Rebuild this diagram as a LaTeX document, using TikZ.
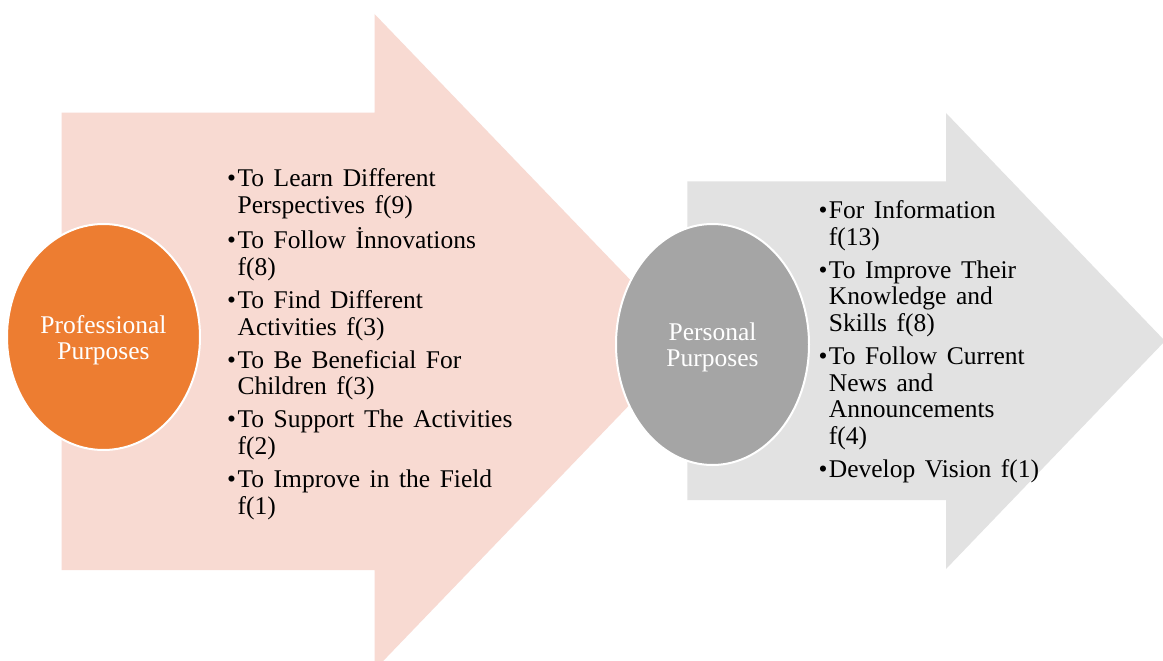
\documentclass[tikz,border=0pt]{standalone}
\usepackage{fontspec}
\setmainfont{Liberation Serif}[WordSpace=1.5]
\usetikzlibrary{shapes.geometric}
\definecolor{pinkfill}{HTML}{F8DAD2}
\definecolor{orangefill}{HTML}{ED7D31}
\definecolor{darkgrayfill}{HTML}{A5A5A5}
\definecolor{lightgrayfill}{HTML}{E2E2E2}
\tikzset{
  blob/.style={ellipse, inner sep=0pt, draw=white, line width=2pt,
    minimum width=193pt, text=white, align=center,
    font=\fontsize{25.5}{26}\selectfont},
  listtext/.style={inner sep=0pt, anchor=base west, text=black,
    font=\fontsize{25.5}{26.7}\selectfont}
}
\begin{document}
\begin{tikzpicture}[x=1pt,y=-1pt]
\useasboundingbox (0,0) rectangle (1163,661);
\clip (0,0) rectangle (1163,661);
\fill[white] (0,0) rectangle (1163,661);
% pink arrow
\fill[pinkfill] (61.5,112.7) -- (374.5,112.7) -- (374.5,14) -- (690,342)
  -- (374.5,670) -- (374.5,570) -- (61.5,570) -- cycle;
% orange ellipse
\node[blob, fill=orangefill, minimum height=226pt] (prof) at (103.5,337)
  {\raisebox{-3pt}[\height][\depth]{\parbox{130pt}{\centering Professional\\Purposes}}};
% gray arrow
\fill[lightgrayfill] (687.3,181.3) -- (946,181.3) -- (946,113) -- (1165,341)
  -- (946,569) -- (946,500) -- (687.3,500) -- cycle;
% gray ellipse
\node[blob, fill=darkgrayfill, minimum height=241pt] (pers) at (712.5,344.5)
  {\raisebox{-3pt}[\height][\depth]{\parbox{130pt}{\centering Personal\\Purposes}}};
% lists
\node[listtext] (plist) at (227,186.7) {%
\begin{tabular}[t]{@{}l@{\hspace{1.5pt}}l@{}}
•&To Learn Different\\
 &Perspectives f(9)\\[6.3pt]
•&To Follow İnnovations\\
 &f(8)\\[6.3pt]
•&To Find Different\\
 &Activities f(3)\\[6.3pt]
•&To Be Beneficial For\\
 &Children f(3)\\[6.3pt]
•&To Support The Activities\\
 &f(2)\\[6.3pt]
•&To Improve in the Field\\
 &f(1)
\end{tabular}};
\node[listtext] (glist) at (818.3,218.3) {%
\begin{tabular}[t]{@{}l@{\hspace{1.5pt}}l@{}}
•&For Information\\
 &f(13)\\[6.3pt]
•&To Improve Their\\
 &Knowledge and\\
 &Skills f(8)\\[6.3pt]
•&To Follow Current\\
 &News and\\
 &Announcements\\
 &f(4)\\[6.3pt]
•&Develop Vision f(1)
\end{tabular}};
\end{tikzpicture}
\end{document}
